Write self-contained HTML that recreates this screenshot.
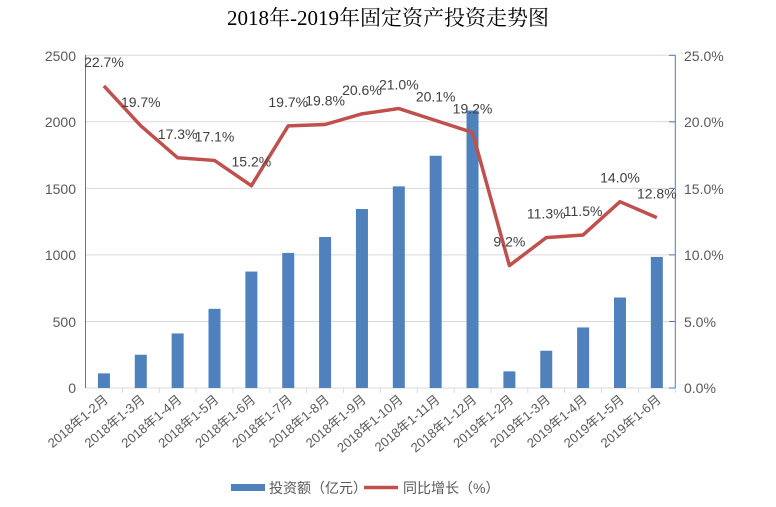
<!DOCTYPE html><html><head><meta charset="utf-8"><style>body{margin:0;background:#fff}svg{display:block}</style></head><body>
<svg width="776" height="507" xmlns="http://www.w3.org/2000/svg" font-family="Liberation Sans, Noto Sans CJK SC, sans-serif">
<text x="388" y="25" text-anchor="middle" font-size="21" font-family="Liberation Serif, Noto Serif CJK SC, serif" fill="#000">2018年-2019年固定资产投资走势图</text>
<g stroke="#d9d9d9" stroke-width="1">
<line x1="85.5" x2="675" y1="55.3" y2="55.3"/><line x1="85.5" x2="675" y1="121.8" y2="121.8"/><line x1="85.5" x2="675" y1="188.4" y2="188.4"/><line x1="85.5" x2="675" y1="254.9" y2="254.9"/><line x1="85.5" x2="675" y1="321.5" y2="321.5"/><line x1="85.5" x2="675" y1="388" y2="388"/>
</g>
<g id="ticks" stroke="#d9d9d9"></g>
<line x1="85.5" x2="85.5" y1="55" y2="388" stroke="#4f7ab8"/>
<line x1="675.3" x2="675.3" y1="55" y2="388" stroke="#4f7ab8"/>
<g stroke="#4f7ab8"><line x1="669" x2="675" y1="55.3" y2="55.3"/><line x1="669" x2="675" y1="121.8" y2="121.8"/><line x1="669" x2="675" y1="188.4" y2="188.4"/><line x1="669" x2="675" y1="254.9" y2="254.9"/><line x1="669" x2="675" y1="321.5" y2="321.5"/><line x1="669" x2="675" y1="388" y2="388"/></g>
<g font-size="14" fill="#595959" text-anchor="end">
<text x="76" y="61">2500</text><text x="76" y="127">2000</text><text x="76" y="194">1500</text><text x="76" y="260">1000</text><text x="76" y="327">500</text><text x="76" y="393">0</text></g>
<g font-size="14" fill="#595959">
<text x="684" y="61">25.0%</text><text x="684" y="127">20.0%</text><text x="684" y="194">15.0%</text><text x="684" y="260">10.0%</text><text x="684" y="327">5.0%</text><text x="684" y="393">0.0%</text></g>
<g id="bars" fill="#4f81bd"></g>
<polyline id="ln" fill="none" stroke="#c0504d" stroke-width="3.5" stroke-linejoin="round"/>
<g id="dl" font-size="14" fill="#404040" text-anchor="middle"></g>
<g id="xl" font-size="13" fill="#595959" text-anchor="end"></g>
<rect x="231" y="484" width="34" height="7" fill="#4f81bd"/>
<text x="269" y="493" font-size="14" fill="#595959">投资额（亿元）</text>
<line x1="364" x2="398" y1="487.5" y2="487.5" stroke="#c0504d" stroke-width="3.5"/>
<text x="403" y="493" font-size="14" fill="#595959">同比增长（%）</text>
<script>
var b=[110,250,410,595,875,1015,1135,1345,1515,1745,2085,125,280,455,680,985];
var p=[22.7,19.7,17.3,17.1,15.2,19.7,19.8,20.6,21.0,20.1,19.2,9.2,11.3,11.5,14.0,12.8];
var L=["2018年1-2月","2018年1-3月","2018年1-4月","2018年1-5月","2018年1-6月","2018年1-7月","2018年1-8月","2018年1-9月","2018年1-10月","2018年1-11月","2018年1-12月","2019年1-2月","2019年1-3月","2019年1-4月","2019年1-5月","2019年1-6月"];
var ns="http://www.w3.org/2000/svg",w=36.86,pts=[];
function el(t,a,par,tx){var e=document.createElementNS(ns,t);for(var k in a)e.setAttribute(k,a[k]);if(tx)e.textContent=tx;document.getElementById(par).appendChild(e);}
for(var i=0;i<16;i++){var cx=85.5+w*(i+0.5);var h=b[i]/2500*332.7;
el("rect",{x:cx-6,y:388-h,width:12,height:h},"bars");
var py=388-p[i]*13.308;pts.push(cx+","+py);
el("text",{x:cx,y:py-19},"dl",p[i].toFixed(1)+"%");
el("text",{x:cx+5,y:401,transform:"rotate(-40 "+(cx+5)+" 401)"},"xl",L[i]);
el("line",{x1:85.5+w*(i+1),x2:85.5+w*(i+1),y1:388,y2:393},"ticks");}
document.getElementById("ln").setAttribute("points",pts.join(" "));
</script>
</svg></body></html>
